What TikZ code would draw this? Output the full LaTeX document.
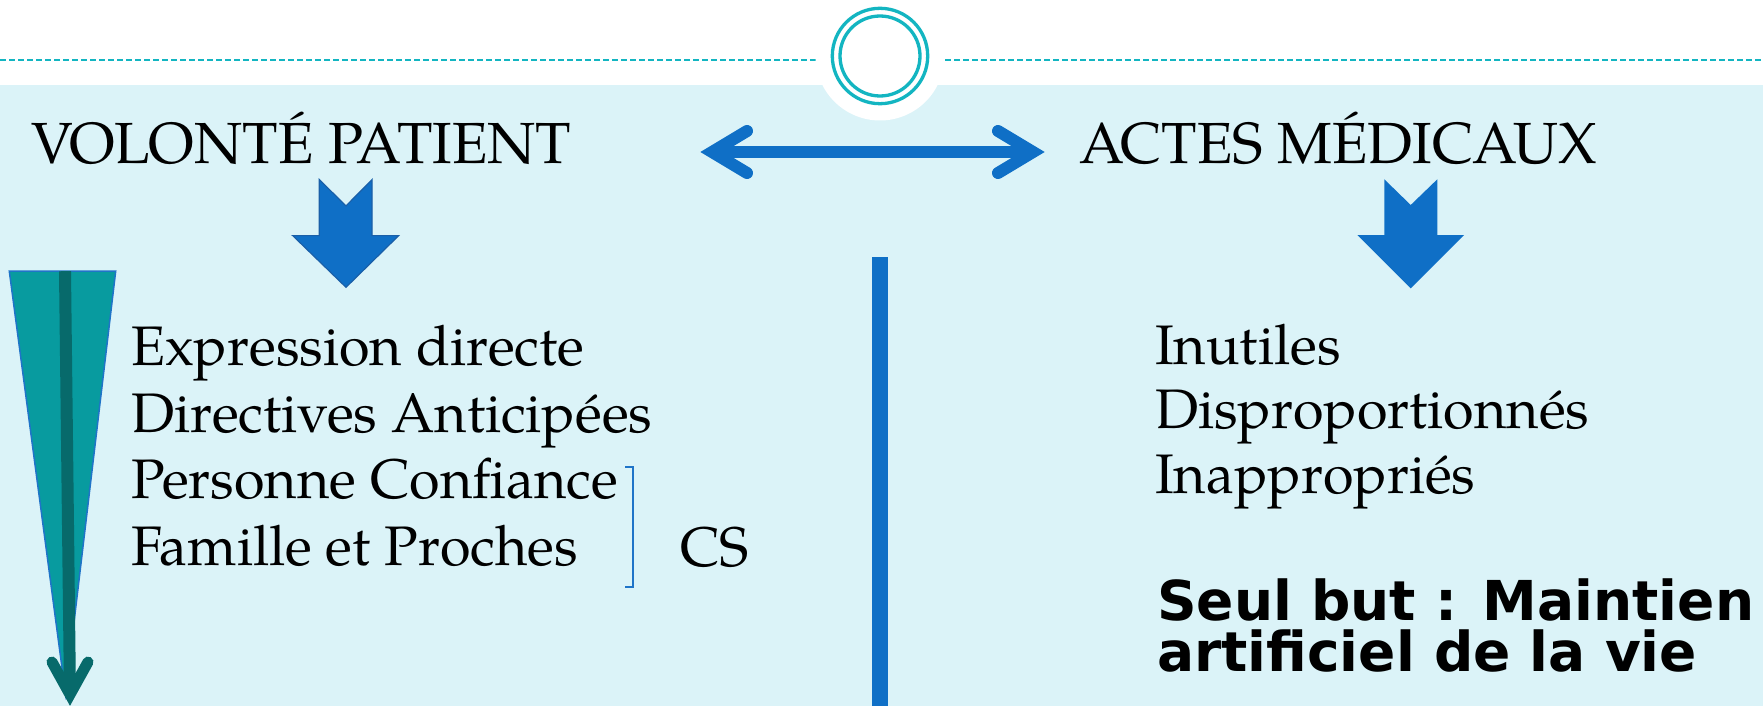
\documentclass[tikz,border=0pt]{standalone}
\usepackage{fontspec}
\setmainfont{TeX Gyre Pagella}
\newfontfamily\boldsans{DejaVu Sans}
\definecolor{bgblue}{HTML}{DBF3F8}
\definecolor{ringteal}{HTML}{13B5C1}
\definecolor{arrblue}{HTML}{0F6FC6}
\definecolor{arredge}{HTML}{1A5FA8}
\definecolor{wedgeteal}{HTML}{089B9F}
\definecolor{darkteal}{HTML}{076A6B}
\definecolor{wedgeedge}{HTML}{1F74C8}
\begin{document}
\begin{tikzpicture}[x=1pt,y=-1pt,
  headtxt/.style={anchor=base west, inner sep=0pt, font=\fontsize{58}{70}\selectfont},
  txt/.style={anchor=base west, inner sep=0pt, font=\fontsize{55.7}{67}\selectfont},
  boldtxt/.style={anchor=base west, inner sep=0pt, font=\boldsans\bfseries\fontsize{55}{52}\selectfont},
  blockarrow/.style={fill=arrblue, draw=arredge, line width=1.2, line join=miter},
  chevron/.style={line cap=round, line join=miter}]
\useasboundingbox (0,0) rectangle (1763,706);
% backgrounds
\fill[white] (0,0) rectangle (1763,706);
\fill[bgblue] (0,85) rectangle (1763,706);
\draw[ringteal, line width=2, dash pattern=on 6 off 3] (0,60) -- (1763,60);
\fill[white] (880,56) circle[radius=64.5];
\draw[ringteal, line width=3.3] (880,56) circle[radius=47.7];
\draw[ringteal, line width=3.3] (880,56) circle[radius=40];
% headings
\node[headtxt] (vp) at (31,163.3) {VOLONTÉ PATIENT};
\node[headtxt] (am) at (1079,163.3) {ACTES MÉDICAUX};
% double arrow
\coordinate (dl) at (712,152);
\coordinate (dr) at (1033,152);
\draw[arrblue, line width=12] (dl) -- (dr);
\draw[arrblue, line width=12, chevron] ([shift={(35,-21)}]dl) -- (dl) -- ([shift={(35,21)}]dl);
\draw[arrblue, line width=12, chevron] ([shift={(-35,-21)}]dr) -- (dr) -- ([shift={(-35,21)}]dr);
% block arrows
\path[blockarrow] (319.3,179.6) -- (346,205.9) -- (372,179.6) -- (372,235.6) -- (398.7,235.6) -- (346,287.3) -- (292.7,235.6) -- (319.3,235.6) -- cycle;
\path[blockarrow, draw=none] (1384.3,179.3) -- (1410.7,205) -- (1437.3,179.3) -- (1437.3,235) -- (1464,235) -- (1410.7,288.3) -- (1357.3,235) -- (1384.3,235) -- cycle;
% wedge with arrow
\filldraw[fill=wedgeteal, draw=wedgeedge, line width=1.5] (9.3,271.2) -- (115.7,271.2) -- (65.5,694) -- cycle;
\coordinate (st) at (65,271.2);
\coordinate (sb) at (70,694.5);
\draw[darkteal, line width=12] (st) -- (sb);
\draw[darkteal, line width=11, chevron] ([shift={(-18,-32.5)}]sb) -- (sb) -- ([shift={(18,-32.5)}]sb);
% left list
\node[txt] (l1) at (131,365.6) {Expression directe};
\node[txt] (l2) at (131,432.2) {Directives Anticipées};
\node[txt] (l3) at (131,498.9) {Personne Confiance};
\node[txt] (l4) at (131,565.6) {Famille et Proches};
\node[txt] (cs) at (680,566) {CS};
\draw[wedgeedge, line width=1.8] (625,466.7) -- (633.3,466.7) -- (633.3,586.7) -- (625,586.7);
% vertical bar
\fill[arrblue] (872,257) rectangle (888,706);
% right list
\node[txt] (r1) at (1155,364.3) {Inutiles};
\node[txt] (r2) at (1155,428.8) {Disproportionnés};
\node[txt] (r3) at (1155,493.8) {Inappropriés};
\node[boldtxt] (b1) at (1157,620) {Seul but : Maintien};
\node[boldtxt] (b2) at (1157,671.7) {artificiel de la vie};
\end{tikzpicture}
\end{document}
